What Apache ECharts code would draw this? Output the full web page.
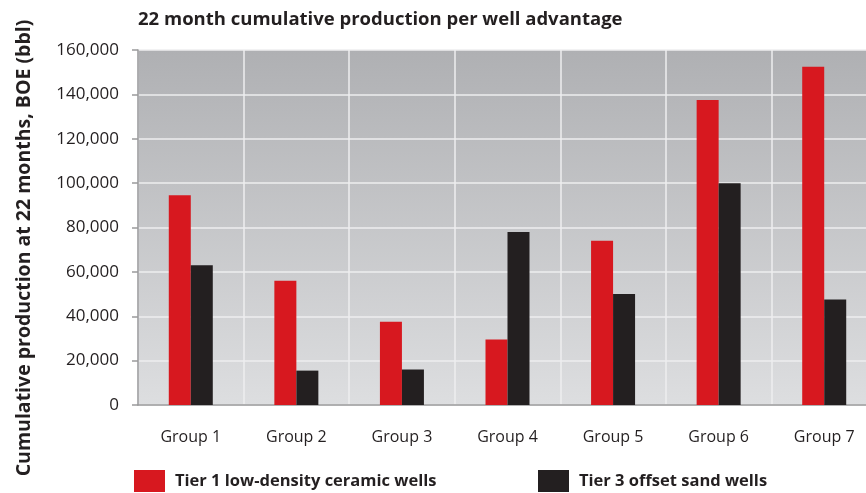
<!DOCTYPE html>
<html>
<head>
<meta charset="utf-8">
<style>
html, body { margin: 0; padding: 0; background: #fff; overflow: hidden; }
#main { width: 877px; height: 493px; }
</style>
<script src="https://cdn.jsdelivr.net/npm/echarts@6/dist/echarts.min.js"></script>
</head>
<body>
<div id="main"></div>
<script>
var chart = echarts.init(document.getElementById('main'));

var groups = ['Group 1', 'Group 2', 'Group 3', 'Group 4', 'Group 5', 'Group 6', 'Group 7'];
var tier1 = [94500, 56000, 37500, 29500, 74000, 137500, 152500];
var tier3 = [63000, 15500, 16000, 78000, 50000, 100000, 47500];

var font = 'Open Sans';
var ink = '#231f20';

var legendText = { fontFamily: font, fontSize: 16.5, fontWeight: 'bold', color: ink, padding: [0, 0, 0, 5] };

var option = {
	animation: false,
	title: {
		text: '22 month cumulative production per well advantage',
		left: 133,
		top: 5,
		textStyle: { fontFamily: font, fontSize: 18.5, fontWeight: 'bold', color: ink }
	},
	graphic: [{
		type: 'text',
		x: 24,
		y: 248,
		rotation: Math.PI / 2,
		style: {
			text: 'Cumulative production at 22 months, BOE (bbl)',
			fontFamily: font,
			fontSize: 19.5,
			fontWeight: 'bold',
			fill: ink,
			align: 'center',
			verticalAlign: 'middle'
		}
	}],
	legend: [{
		data: ['Tier 1 low-density ceramic wells'],
		left: 134,
		top: 470,
		padding: 0,
		itemWidth: 31,
		itemHeight: 22,
		icon: 'rect',
		textStyle: legendText
	}, {
		data: ['Tier 3 offset sand wells'],
		left: 538,
		top: 470,
		padding: 0,
		itemWidth: 31,
		itemHeight: 22,
		icon: 'rect',
		textStyle: legendText
	}],
	grid: {
		left: 138,
		right: 0,
		top: 50,
		bottom: 88,
		show: true,
		borderWidth: 0,
		backgroundColor: new echarts.graphic.LinearGradient(0, 0, 0, 1, [
			{ offset: 0, color: '#afb0b3' },
			{ offset: 1, color: '#dddee0' }
		])
	},
	xAxis: {
		type: 'category',
		data: groups,
		axisLine: { lineStyle: { color: '#9a9a9c', width: 1.5 } },
		axisTick: { length: 6, lineStyle: { color: '#9a9a9c', width: 1.5 } },
		axisLabel: { fontFamily: font, fontSize: 16, color: ink, margin: 24 },
		splitLine: { show: true, lineStyle: { color: '#eeeeef', width: 1.5 } }
	},
	yAxis: {
		type: 'value',
		min: 0,
		max: 160000,
		interval: 20000,
		axisLine: { show: true, lineStyle: { color: '#9a9a9c', width: 1.5 } },
		axisTick: { show: true, length: 6, lineStyle: { color: '#9a9a9c', width: 1.5 } },
		axisLabel: {
			fontFamily: font, fontSize: 17, color: ink, margin: 19,
			formatter: function (v) { return v.toLocaleString('en-US'); }
		},
		splitLine: { lineStyle: { color: '#eeeeef', width: 1.5 } }
	},
	series: [{
		name: 'Tier 1 low-density ceramic wells',
		type: 'bar',
		data: tier1,
		barWidth: 22,
		barGap: '0%',
		itemStyle: { color: '#d7181f' }
	}, {
		name: 'Tier 3 offset sand wells',
		type: 'bar',
		data: tier3,
		barWidth: 22,
		barGap: '0%',
		itemStyle: { color: ink }
	}]
};

chart.setOption(option);
</script>
</body>
</html>
